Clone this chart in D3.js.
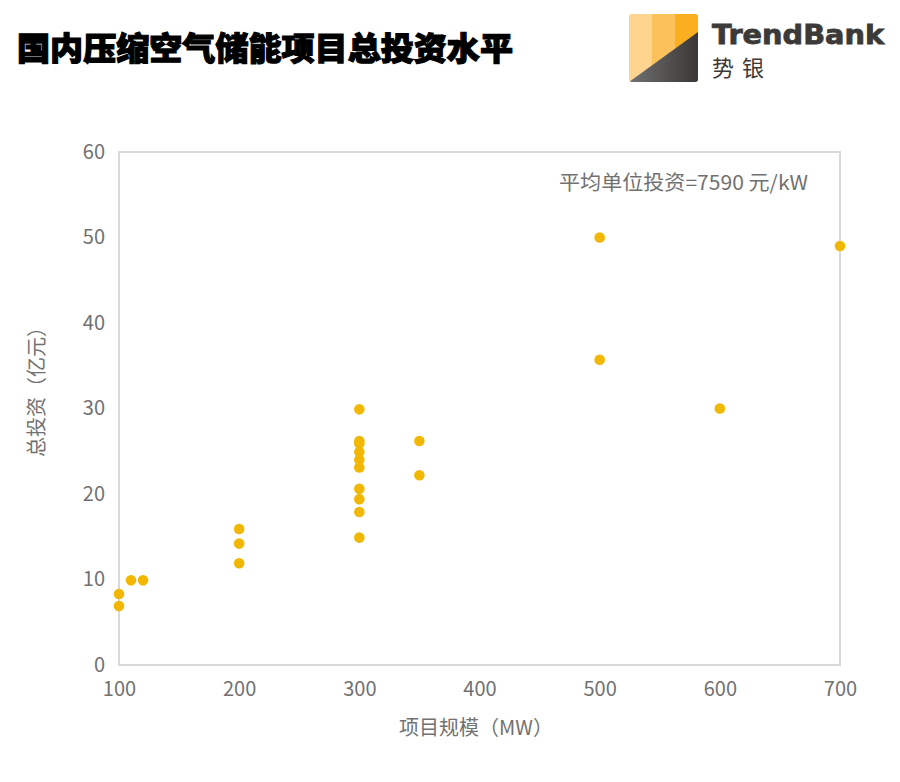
<!DOCTYPE html>
<html><head><meta charset="utf-8">
<script src="https://cdn.jsdelivr.net/npm/d3@7"></script>
<style>
body{margin:0;background:#fff;}
svg{display:block;font-family:"Noto Sans CJK SC","Noto Sans",sans-serif;}
</style></head>
<body>
<script>
const title = "国内压缩空气储能项目总投资水平";
const xLabel = "项目规模（MW）";
const yLabel = "总投资（亿元）";
const note = "平均单位投资=7590 元/kW";
const xTicks = [100, 200, 300, 400, 500, 600, 700];
const yTicks = [0, 10, 20, 30, 40, 50, 60];
const scaleMW = [100, 100, 110, 120, 200, 200, 200, 300, 300, 300, 300, 300, 300, 300, 300, 300, 300, 350, 350, 500, 500, 600, 700];
const investment = [8.3, 6.9, 9.9, 9.9, 15.9, 14.2, 11.9, 29.9, 26.2, 25.9, 24.9, 24.0, 23.1, 20.6, 19.4, 17.9, 14.9, 26.2, 22.2, 50.0, 35.7, 30.0, 49.0];

const W = 900, H = 782;
const svg = d3.select("body").append("svg").attr("width", W).attr("height", H);

const m = {left: 119, right: 840, top: 152, bottom: 665};
const x = d3.scaleLinear().domain([100, 700]).range([m.left, m.right]);
const y = d3.scaleLinear().domain([0, 60]).range([m.bottom, m.top]);

// Title
svg.append("text").attr("x", 17).attr("y", 60)
  .attr("font-size", 32).attr("font-weight", 900).attr("fill", "#000")
  .attr("textLength", 496).attr("lengthAdjust", "spacingAndGlyphs")
  .style("stroke", "#000").style("stroke-width", 1.2)
  .text(title);

// Logo
const defs = svg.append("defs");
const g1 = defs.append("linearGradient").attr("id", "dk").attr("x1", "0").attr("x2", "1").attr("y1", "0").attr("y2", "0");
g1.append("stop").attr("offset", "0").attr("stop-color", "#707070");
g1.append("stop").attr("offset", "1").attr("stop-color", "#3a3836");
defs.append("clipPath").attr("id", "lc").append("rect")
  .attr("x", 629).attr("y", 14).attr("width", 69).attr("height", 68).attr("rx", 3);
const logo = svg.append("g").attr("clip-path", "url(#lc)");
logo.append("rect").attr("x", 629).attr("y", 14).attr("width", 23).attr("height", 68).attr("fill", "#FED48E");
logo.append("rect").attr("x", 652).attr("y", 14).attr("width", 23).attr("height", 68).attr("fill", "#FDC15B");
logo.append("rect").attr("x", 675).attr("y", 14).attr("width", 23).attr("height", 68).attr("fill", "#FBAE1F");
logo.append("path").attr("d", "M629,82 L698,32 L698,82 Z").attr("fill", "url(#dk)");

svg.append("text").attr("x", 712).attr("y", 44)
  .attr("font-family", "'DejaVu Sans','Liberation Sans',sans-serif")
  .attr("font-size", 26).attr("font-weight", 700).attr("fill", "#3c3a38")
  .attr("textLength", 172).attr("lengthAdjust", "spacingAndGlyphs")
  .style("stroke", "#3c3a38").style("stroke-width", 0.8)
  .text("TrendBank");
svg.append("text").attr("x", 712).attr("y", 76)
  .attr("font-size", 22).attr("font-weight", 400).attr("fill", "#3c3a38")
  .attr("letter-spacing", 8)
  .text("势银");

// Plot frame
svg.append("rect").attr("x", m.left).attr("y", m.top)
  .attr("width", m.right - m.left).attr("height", m.bottom - m.top)
  .attr("fill", "none").attr("stroke", "#d9d9d9").attr("stroke-width", 2);

const txt = "#717171";
// Axes via d3
const xAxis = svg.append("g").attr("transform", `translate(0,${m.bottom})`)
  .call(d3.axisBottom(x).tickValues(xTicks).tickSize(0).tickPadding(17));
xAxis.select(".domain").remove();
xAxis.selectAll("text").attr("font-size", 20).attr("fill", txt)
  .attr("font-family", "'Noto Sans CJK SC',sans-serif");

const yAxis = svg.append("g").attr("transform", `translate(${m.left},0)`)
  .call(d3.axisLeft(y).tickValues(yTicks).tickSize(0).tickPadding(14));
yAxis.select(".domain").remove();
yAxis.selectAll("text").attr("font-size", 20).attr("fill", txt)
  .attr("font-family", "'Noto Sans CJK SC',sans-serif");

// Points
svg.append("g").selectAll("circle")
  .data(scaleMW.map((d, i) => [d, investment[i]]))
  .join("circle")
  .attr("cx", d => x(d[0])).attr("cy", d => y(d[1]))
  .attr("r", 5.3).attr("fill", "#F2B700");

// Annotation
svg.append("text").attr("x", 559).attr("y", 190)
  .attr("font-size", 20).attr("fill", txt)
  .attr("textLength", 249).attr("lengthAdjust", "spacingAndGlyphs")
  .text(note);

// Axis titles
svg.append("text").attr("x", 476).attr("y", 735)
  .attr("text-anchor", "middle").attr("font-size", 20).attr("fill", txt).text(xLabel);
svg.append("text").attr("transform", `translate(44,387) rotate(-90)`)
  .attr("text-anchor", "middle").attr("font-size", 20).attr("fill", txt).text(yLabel);
</script>
</body></html>
